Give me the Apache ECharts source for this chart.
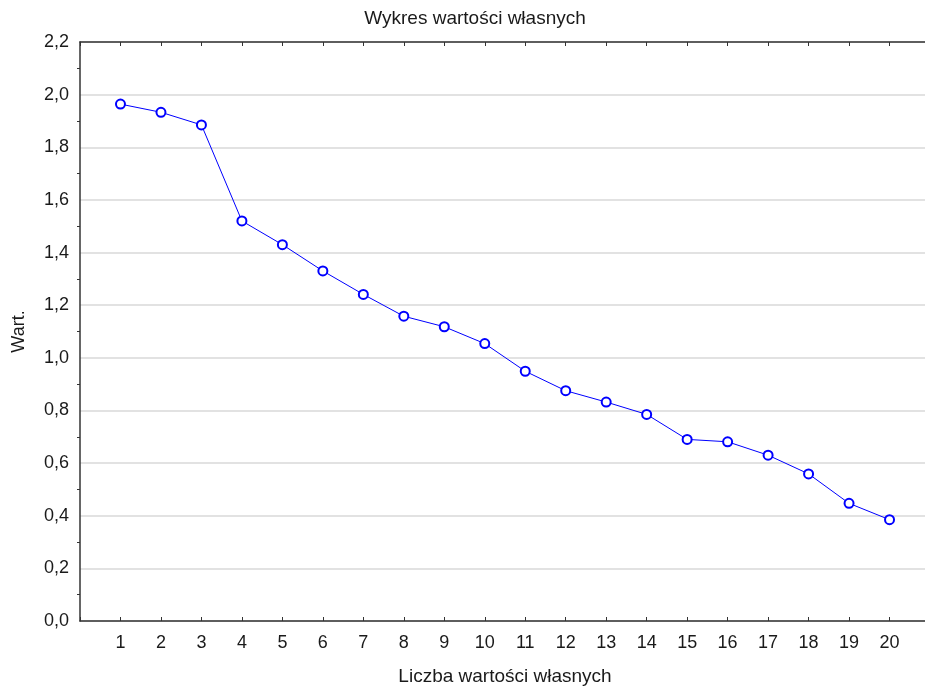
<!DOCTYPE html>
<html>
<head>
<meta charset="utf-8">
<script src="https://cdn.jsdelivr.net/npm/echarts@6/dist/echarts.min.js"></script>
<style>html,body{margin:0;padding:0;background:#fff}#c{width:925px;height:686px}</style>
</head>
<body>
<div id="c"></div>
<script>
const titleText = 'Wykres wartości własnych';
const xName = 'Liczba wartości własnych';
const yName = 'Wart.';
const components = [1,2,3,4,5,6,7,8,9,10,11,12,13,14,15,16,17,18,19,20];
const eigenvalues = [1.964,1.933,1.885,1.520,1.430,1.330,1.241,1.158,1.118,1.054,0.949,0.875,0.832,0.785,0.690,0.681,0.630,0.559,0.447,0.385];
const yTicks = [0,0.2,0.4,0.6,0.8,1.0,1.2,1.4,1.6,1.8,2.0,2.2];

const FONT = 'Liberation Sans, Arial, sans-serif';
const chart = echarts.init(document.getElementById('c'), null, {renderer:'canvas'});
chart.setOption({
  animation:false,
  backgroundColor:'#ffffff',
  title:{text:titleText,left:470,top:4,textAlign:'center',
    textStyle:{fontFamily:FONT,fontSize:19,fontWeight:'normal',color:'#1a1a1a'}},
  grid:{left:80,top:42,width:850,bottom:65,containLabel:false,outerBoundsMode:'none'},
  xAxis:[{
    type:'value',min:0,max:21,interval:1,position:'bottom',
    name:xName,nameLocation:'middle',nameGap:46,
    nameTextStyle:{fontFamily:FONT,fontSize:19,color:'#1a1a1a'},
    axisLine:{show:true,lineStyle:{color:'#333',width:1.5}},
    axisTick:{show:true,inside:true,length:4,lineStyle:{color:'#333'}},
    axisLabel:{margin:13,fontFamily:FONT,fontSize:18,color:'#1a1a1a',
      formatter:function(v){return components.indexOf(v)>=0?String(v):'';}},
    splitLine:{show:false}
  },{
    type:'value',min:0,max:21,interval:1,position:'top',
    axisLine:{show:true,onZero:false,lineStyle:{color:'#333',width:1.5}},
    axisTick:{show:true,inside:true,length:4,lineStyle:{color:'#333'}},
    axisLabel:{show:false},splitLine:{show:false}
  }],
  yAxis:{
    type:'value',min:yTicks[0],max:yTicks[yTicks.length-1],interval:0.2,
    name:yName,nameLocation:'middle',nameGap:52,nameRotate:90,
    nameTextStyle:{fontFamily:FONT,fontSize:18,color:'#1a1a1a'},
    axisLine:{show:true,lineStyle:{color:'#333',width:1.5}},
    axisTick:{show:false},
    minorTick:{show:true,splitNumber:2,length:3,lineStyle:{color:'#333'}},
    axisLabel:{margin:11,fontFamily:FONT,fontSize:18,color:'#1a1a1a',
      formatter:function(v){return v.toFixed(1).replace('.',',');}},
    splitLine:{show:true,lineStyle:{color:'#d9d9d9',width:1.5}}
  },
  series:[{
    type:'line',xAxisIndex:0,
    data:components.map(function(c,i){return [c,eigenvalues[i]];}),
    symbol:'emptyCircle',symbolSize:9,
    lineStyle:{color:'#0000ff',width:1},
    itemStyle:{color:'#0000ff',borderColor:'#0000ff',borderWidth:1.1}
  }]
});
</script>
</body>
</html>
